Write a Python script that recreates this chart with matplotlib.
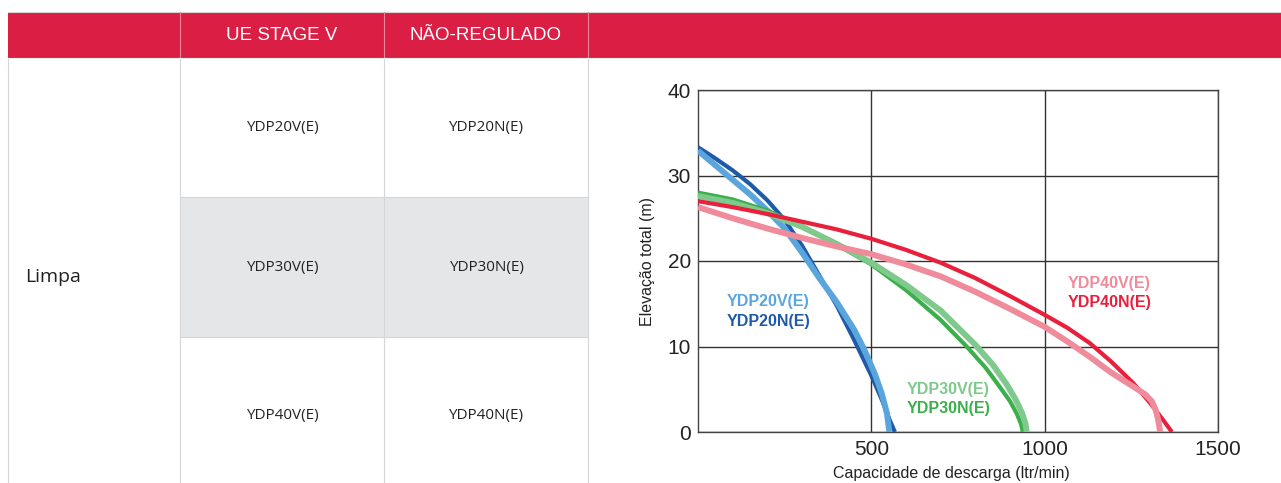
import matplotlib
matplotlib.use("Agg")
import matplotlib.pyplot as plt
from matplotlib.patches import Rectangle
from matplotlib.lines import Line2D

# ---- data ----
header_labels = ["UE STAGE V", "NÃO-REGULADO"]
row_label = "Limpa"
models_v = ["YDP20V(E)", "YDP30V(E)", "YDP40V(E)"]
models_n = ["YDP20N(E)", "YDP30N(E)", "YDP40N(E)"]

# capacity (ltr/min) vs total head (m)
ydp20n_x = [0, 50, 100, 150, 200, 250, 300, 350, 400, 450, 500, 530, 555, 568]
ydp20n_y = [33.3, 32.0, 30.6, 29.0, 27.1, 24.8, 21.8, 18.3, 14.8, 10.8, 6.6, 3.8, 1.2, 0]
ydp20v_x = [0, 50, 100, 150, 200, 250, 300, 350, 400, 450, 480, 510, 530, 545, 552]
ydp20v_y = [32.9, 31.2, 29.5, 27.8, 25.9, 23.8, 21.0, 18.0, 15.2, 12.0, 9.6, 6.8, 4.5, 2.2, 0]

ydp30n_x = [0, 100, 200, 300, 400, 500, 600, 700, 775, 830, 870, 900, 920, 932, 937]
ydp30n_y = [28.0, 27.2, 25.9, 24.1, 21.9, 19.6, 16.6, 13.1, 10.0, 7.5, 5.3, 3.6, 2.1, 0.9, 0]
ydp30v_x = [0, 100, 200, 300, 400, 500, 600, 700, 800, 850, 890, 915, 935, 945, 948]
ydp30v_y = [27.6, 26.8, 25.6, 24.0, 22.0, 19.8, 17.2, 14.2, 10.2, 7.9, 5.6, 3.9, 2.2, 0.9, 0]

ydp40n_x = [0, 100, 200, 300, 400, 500, 600, 700, 800, 900, 1000, 1065, 1130, 1190,
            1256, 1304, 1340, 1367]
ydp40n_y = [27.0, 26.3, 25.5, 24.6, 23.7, 22.6, 21.3, 19.8, 18.0, 15.9, 13.7, 12.2, 10.4, 8.3,
            5.7, 3.4, 1.5, 0]
ydp40v_x = [0, 100, 200, 300, 400, 500, 600, 700, 800, 900, 1000, 1065, 1130, 1190,
            1256, 1290, 1309, 1320, 1327, 1331, 1333]
ydp40v_y = [26.3, 25.0, 23.8, 22.7, 21.7, 20.8, 19.6, 18.2, 16.4, 14.4, 12.3, 10.6, 8.8, 7.0,
            5.3, 4.4, 3.6, 2.6, 1.5, 0.6, 0]

xticks = [500, 1000, 1500]
yticks = [0, 10, 20, 30, 40]

W, H = 1281, 483
RED = "#da1e44"
GRAY_ROW = "#e5e6e8"
LINE = "#d6d6d6"

narrow = ["Liberation Sans Narrow", "DejaVu Sans Condensed", "Liberation Sans", "DejaVu Sans"]
arial = ["Liberation Sans", "DejaVu Sans"]
plain = ["Open Sans", "DejaVu Sans"]

fig = plt.figure(figsize=(W / 100, H / 100), dpi=100)
fig.patch.set_facecolor("white")


def fx(x):
    return x / W


def fy(y):
    return 1 - y / H


def box(x0, y0, x1, y1, color):
    fig.add_artist(Rectangle((fx(x0), fy(y1)), fx(x1) - fx(x0), fy(y0) - fy(y1),
                             transform=fig.transFigure, facecolor=color,
                             edgecolor="none", zorder=0))


def vline(x, y0, y1, color=LINE, lw=0.8):
    fig.add_artist(Line2D([fx(x), fx(x)], [fy(y0), fy(y1)], transform=fig.transFigure,
                          color=color, lw=lw, zorder=1))


def hline(y, x0, x1, color=LINE, lw=0.8):
    fig.add_artist(Line2D([fx(x0), fx(x1)], [fy(y), fy(y)], transform=fig.transFigure,
                          color=color, lw=lw, zorder=1))


#
# Table
#
col_x = [8, 180, 384, 588, 1281]
row_y = [58, 197, 337, 483]

box(8, 12, 1281, 58, RED)
box(180, 197, 588, 337, GRAY_ROW)
hline(12, 8, 1281)
for x in col_x[1:4]:
    vline(x, 12, 58, color="#ec8598", lw=0.8)
for x in col_x[:4]:
    vline(x, 58, 483)
hline(58, 8, 1281, color="#f0f0f0")
for y in row_y[1:3]:
    hline(y, 180, 588)

for i, lab in enumerate(header_labels):
    fig.text(fx((col_x[i + 1] + col_x[i + 2]) / 2), fy(36), lab, color="white",
             ha="center", va="center", fontsize=13.5, family=narrow)

fig.text(fx(25), fy(277), row_label, ha="left", va="center", fontsize=14,
         family=plain, color="#222222")

for i in range(3):
    yc = (row_y[i] + row_y[i + 1]) / 2
    if i == 2:
        yc = 416
    fig.text(fx(282), fy(yc), models_v[i], ha="center", va="center", fontsize=11,
             family=plain, color="#222222")
    fig.text(fx(486), fy(yc), models_n[i], ha="center", va="center", fontsize=11,
             family=plain, color="#222222")

#
# Chart
#
ax = fig.add_axes([fx(698), fy(432), fx(1218) - fx(698), fy(90) - fy(432)])
ax.set_xlim(0, 1500)
ax.set_ylim(0, 40)
ax.set_xticks(xticks)
ax.set_yticks(yticks)
ax.tick_params(length=0, labelsize=15, colors="#222222")
ax.tick_params(axis="y", pad=5)
ax.tick_params(axis="x", pad=6)
for lab in ax.get_xticklabels() + ax.get_yticklabels():
    lab.set_family(narrow)
ax.grid(True, color="#333333", lw=1.0)
ax.set_axisbelow(True)
for s in ax.spines.values():
    s.set_color("#444444")
    s.set_linewidth(1.0)

series = [
    (ydp20n_x, ydp20n_y, "#1f5aa8", 3.0),
    (ydp20v_x, ydp20v_y, "#5aa5dc", 4.3),
    (ydp30n_x, ydp30n_y, "#3aaf4a", 3.0),
    (ydp30v_x, ydp30v_y, "#7ec98b", 4.3),
    (ydp40n_x, ydp40n_y, "#e8203c", 3.0),
    (ydp40v_x, ydp40v_y, "#f08b9b", 4.3),
]
for xs, ys, c, lw in series:
    ax.plot(xs, ys, color=c, lw=lw, solid_joinstyle="round", solid_capstyle="butt",
            zorder=3)

labels = [
    (84, 15.3, 12.9, "#5aa5dc", "#1f5aa8", 0),
    (603, 5.0, 2.7, "#7ec98b", "#3aaf4a", 1),
    (1067, 17.4, 15.2, "#f08b9b", "#e8203c", 2),
]
for x, yv, yn, cv, cn, i in labels:
    ax.text(x, yv, models_v[i], color=cv, fontsize=11.5, fontweight="bold",
            family=arial, ha="left", va="center", zorder=4)
    ax.text(x, yn, models_n[i], color=cn, fontsize=11.5, fontweight="bold",
            family=arial, ha="left", va="center", zorder=4)

ax.set_ylabel("Elevação total (m)", fontsize=11.5, family=narrow, labelpad=9,
              color="#222222")
ax.set_xlabel("Capacidade de descarga (ltr/min)", fontsize=11.5,
              family=arial, labelpad=1, color="#222222")
ax.xaxis.set_label_coords(0.487, -0.1)

fig.savefig("out.png", dpi=100, facecolor="white")
